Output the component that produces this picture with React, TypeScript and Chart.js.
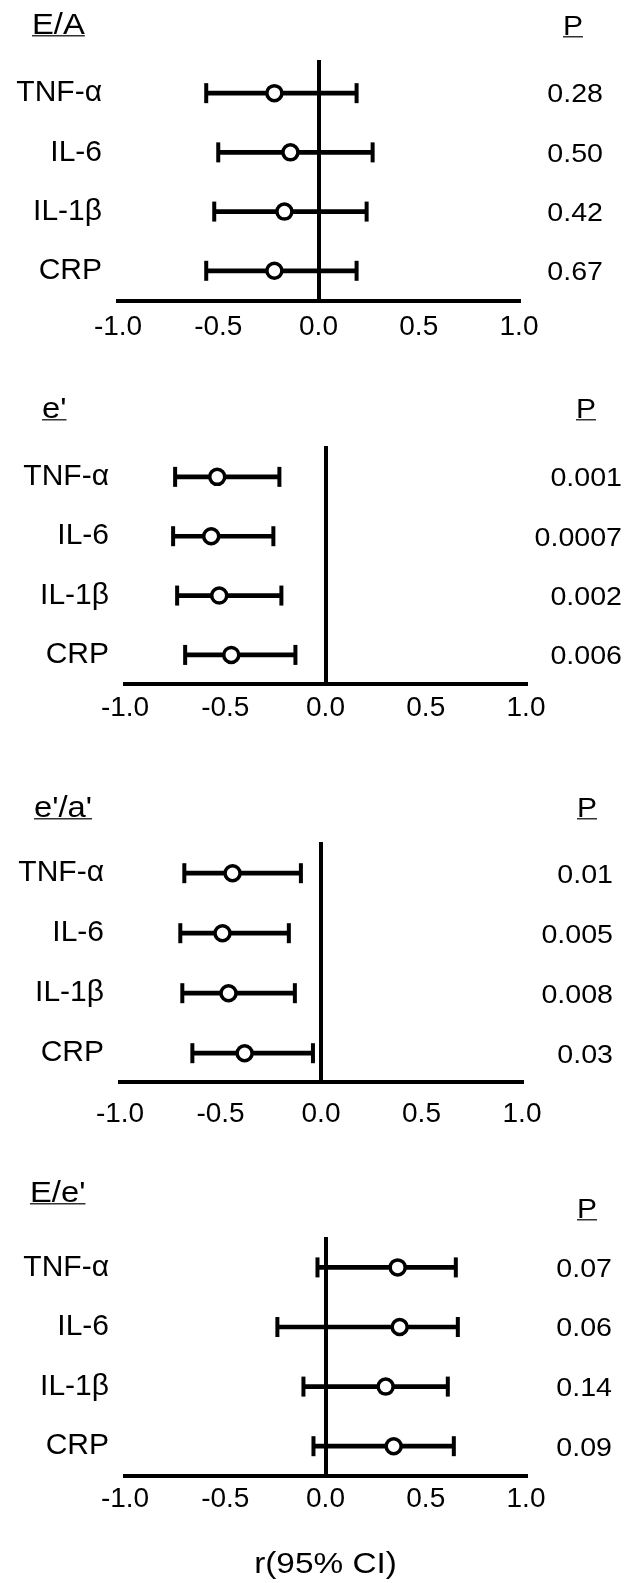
import React, { useEffect, useRef } from 'react';
import { Chart, registerables } from 'chart.js';

Chart.register(...registerables);

// ---------- data ----------
const categories = ['TNF-α', 'IL-6', 'IL-1β', 'CRP'];
const xTickValues = [-1, -0.5, 0, 0.5, 1];
const xTickLabels = ['-1.0', '-0.5', '0.0', '0.5', '1.0'];
const xAxisTitle = 'r(95% CI)';
const pHeader = 'P';
const panelTitles = ['E/A', "e'", "e'/a'", "E/e'"];

const eaR = [-0.22, -0.14, -0.17, -0.22];
const eaLow = [-0.56, -0.5, -0.52, -0.56];
const eaHigh = [0.19, 0.27, 0.24, 0.19];
const eaP = ['0.28', '0.50', '0.42', '0.67'];

const ePrimeR = [-0.54, -0.57, -0.53, -0.47];
const ePrimeLow = [-0.75, -0.76, -0.74, -0.7];
const ePrimeHigh = [-0.23, -0.26, -0.22, -0.15];
const ePrimeP = ['0.001', '0.0007', '0.002', '0.006'];

const eaPrimeR = [-0.44, -0.49, -0.46, -0.38];
const eaPrimeLow = [-0.68, -0.7, -0.69, -0.64];
const eaPrimeHigh = [-0.1, -0.16, -0.13, -0.04];
const eaPrimeP = ['0.01', '0.005', '0.008', '0.03'];

const eeR = [0.36, 0.37, 0.3, 0.34];
const eeLow = [-0.04, -0.24, -0.11, -0.06];
const eeHigh = [0.65, 0.66, 0.61, 0.64];
const eeP = ['0.07', '0.06', '0.14', '0.09'];

const panels = [
  { title: panelTitles[0], r: eaR, low: eaLow, high: eaHigh, p: eaP },
  { title: panelTitles[1], r: ePrimeR, low: ePrimeLow, high: ePrimeHigh, p: ePrimeP },
  { title: panelTitles[2], r: eaPrimeR, low: eaPrimeLow, high: eaPrimeHigh, p: eaPrimeP },
  { title: panelTitles[3], r: eeR, low: eeLow, high: eeHigh, p: eeP },
];

// ---------- layout (page coordinates) ----------
const W = 626;
const FONT = '"Liberation Sans", Arial, Helvetica, sans-serif';

const layouts = [
  { top: 0, height: 370, left: 118, right: 519, chartTop: 60, chartBottom: 301, yMin: 0.44, yMax: 4.51, titleX: 32, titleY: 34, pHeadX: 573, pHeadY: 35, pRight: 603, tickPad: 9, axisTitleY: 0 },
  { top: 370, height: 380, left: 125, right: 526, chartTop: 446, chartBottom: 684, yMin: 0.48, yMax: 4.49, titleX: 42, titleY: 418, pHeadX: 586, pHeadY: 418, pRight: 622, tickPad: 7, axisTitleY: 0 },
  { top: 750, height: 390, left: 120, right: 522, chartTop: 842, chartBottom: 1082, yMin: 0.48, yMax: 4.48, titleX: 34, titleY: 817, pHeadX: 587, pHeadY: 817, pRight: 613, tickPad: 15, axisTitleY: 0 },
  { top: 1140, height: 443, left: 125, right: 526, chartTop: 1237, chartBottom: 1476, yMin: 0.49, yMax: 4.5, titleX: 30, titleY: 1202, pHeadX: 587, pHeadY: 1218, pRight: 612, tickPad: 6, axisTitleY: 1573 },
];

function drawText(
  ctx: CanvasRenderingContext2D,
  text: string,
  x: number,
  y: number,
  align: 'left' | 'center' | 'right',
  size: number,
  sx: number,
  underline: boolean
) {
  ctx.save();
  ctx.font = `${size}px ${FONT}`;
  ctx.fillStyle = '#000';
  ctx.textBaseline = 'alphabetic';
  ctx.textAlign = 'left';
  const w = ctx.measureText(text).width * sx;
  const x0 = align === 'center' ? x - w / 2 : align === 'right' ? x - w : x;
  ctx.translate(x0, y);
  ctx.scale(sx, 1);
  ctx.fillText(text, 0, 0);
  ctx.restore();
  if (underline) {
    ctx.save();
    ctx.fillStyle = '#333';
    ctx.fillRect(x0, y + 1, w, 1.5);
    ctx.restore();
  }
}

function Panel({ index }: { index: number }) {
  const ref = useRef<HTMLCanvasElement>(null);
  const L = layouts[index];
  const d = panels[index];

  useEffect(() => {
    const canvas = ref.current;
    if (!canvas) return;

    const textPlugin = {
      id: 'panelText',
      afterDraw(chart: any) {
        const ctx = chart.ctx as CanvasRenderingContext2D;
        const ys = chart.scales.y;
        const xs = chart.scales.x;
        drawText(ctx, d.title, L.titleX, L.titleY - L.top, 'left', 29, 1.13, true);
        drawText(ctx, pHeader, L.pHeadX, L.pHeadY - L.top, 'center', 28, 1.07, true);
        d.p.forEach((t, i) => {
          const y = ys.getPixelForValue(i + 1);
          drawText(ctx, t, L.pRight, y + 0.358 * 26, 'right', 26, 1.1, false);
        });
        if (L.axisTitleY) {
          drawText(ctx, xAxisTitle, (xs.left + xs.right) / 2, L.axisTitleY - L.top, 'center', 29, 1.15, false);
        }
      },
    };

    const chart = new Chart(canvas, {
      type: 'scatter',
      data: {
        datasets: [
          {
            type: 'scatter',
            label: 'r',
            data: d.r.map((v, i) => ({ x: v, y: i + 1 })),
            pointRadius: 7.5,
            pointBackgroundColor: '#fff',
            pointBorderColor: '#000',
            pointBorderWidth: 3.5,
            order: 0,
          },
          {
            type: 'scatter',
            label: 'low',
            data: d.low.map((v, i) => ({ x: v, y: i + 1 })),
            pointStyle: 'line',
            pointRotation: 90,
            pointRadius: 10,
            pointBorderColor: '#000',
            pointBorderWidth: 4,
            order: 1,
          },
          {
            type: 'scatter',
            label: 'high',
            data: d.high.map((v, i) => ({ x: v, y: i + 1 })),
            pointStyle: 'line',
            pointRotation: 90,
            pointRadius: 10,
            pointBorderColor: '#000',
            pointBorderWidth: 4,
            order: 1,
          },
          {
            type: 'bar',
            label: 'CI',
            indexAxis: 'y',
            data: d.low.map((v, i) => ({ x: [v, d.high[i]], y: i + 1 })),
            backgroundColor: '#000',
            borderWidth: 0,
            barThickness: 4,
            order: 3,
          } as any,
        ],
      },
      options: {
        responsive: false,
        maintainAspectRatio: false,
        animation: false,
        devicePixelRatio: 1,
        events: [],
        layout: { padding: { top: L.chartTop - L.top, right: W - L.right, left: 0, bottom: 0 } },
        plugins: { legend: { display: false }, tooltip: { enabled: false } },
        scales: {
          x: {
            type: 'linear',
            position: 'bottom',
            min: -1,
            max: 1,
            offset: false,
            afterBuildTicks: (s: any) => {
              s.ticks = xTickValues.map((v) => ({ value: v }));
            },
            afterFit: (s: any) => {
              s.height = L.top + L.height - L.chartBottom;
            },
            grid: {
              display: true,
              offset: false,
              drawOnChartArea: true,
              drawTicks: false,
              lineWidth: 4,
              color: (c: any) => (c.tick && c.tick.value === 0 ? '#000' : 'rgba(0,0,0,0)'),
            },
            border: { display: true, color: '#000', width: 4 },
            ticks: {
              padding: L.tickPad,
              color: '#000',
              autoSkip: false,
              maxRotation: 0,
              font: { size: 28, family: FONT },
              callback: (_v: any, i: number) => xTickLabels[i],
            },
          },
          y: {
            type: 'linear',
            position: 'left',
            reverse: true,
            offset: false,
            min: L.yMin,
            max: L.yMax,
            afterBuildTicks: (s: any) => {
              s.ticks = categories.map((_c, i) => ({ value: i + 1 }));
            },
            afterFit: (s: any) => {
              s.width = L.left;
            },
            grid: { display: false, drawTicks: false, offset: false },
            border: { display: false },
            ticks: {
              padding: 16,
              color: '#000',
              autoSkip: false,
              font: { size: 30, family: FONT },
              callback: (v: any) => categories[Math.round(Number(v)) - 1] ?? '',
            },
          },
        },
      } as any,
      plugins: [textPlugin],
    });

    return () => chart.destroy();
  }, []);

  return (
    <canvas
      ref={ref}
      width={W}
      height={L.height}
      style={{ position: 'absolute', left: 0, top: L.top, width: W, height: L.height, display: 'block' }}
    />
  );
}

export default function App() {
  return (
    <div style={{ position: 'absolute', left: 0, top: 0, width: W, height: 1583, background: '#fff', overflow: 'hidden' }}>
      {panels.map((_p, i) => (
        <Panel key={i} index={i} />
      ))}
    </div>
  );
}
